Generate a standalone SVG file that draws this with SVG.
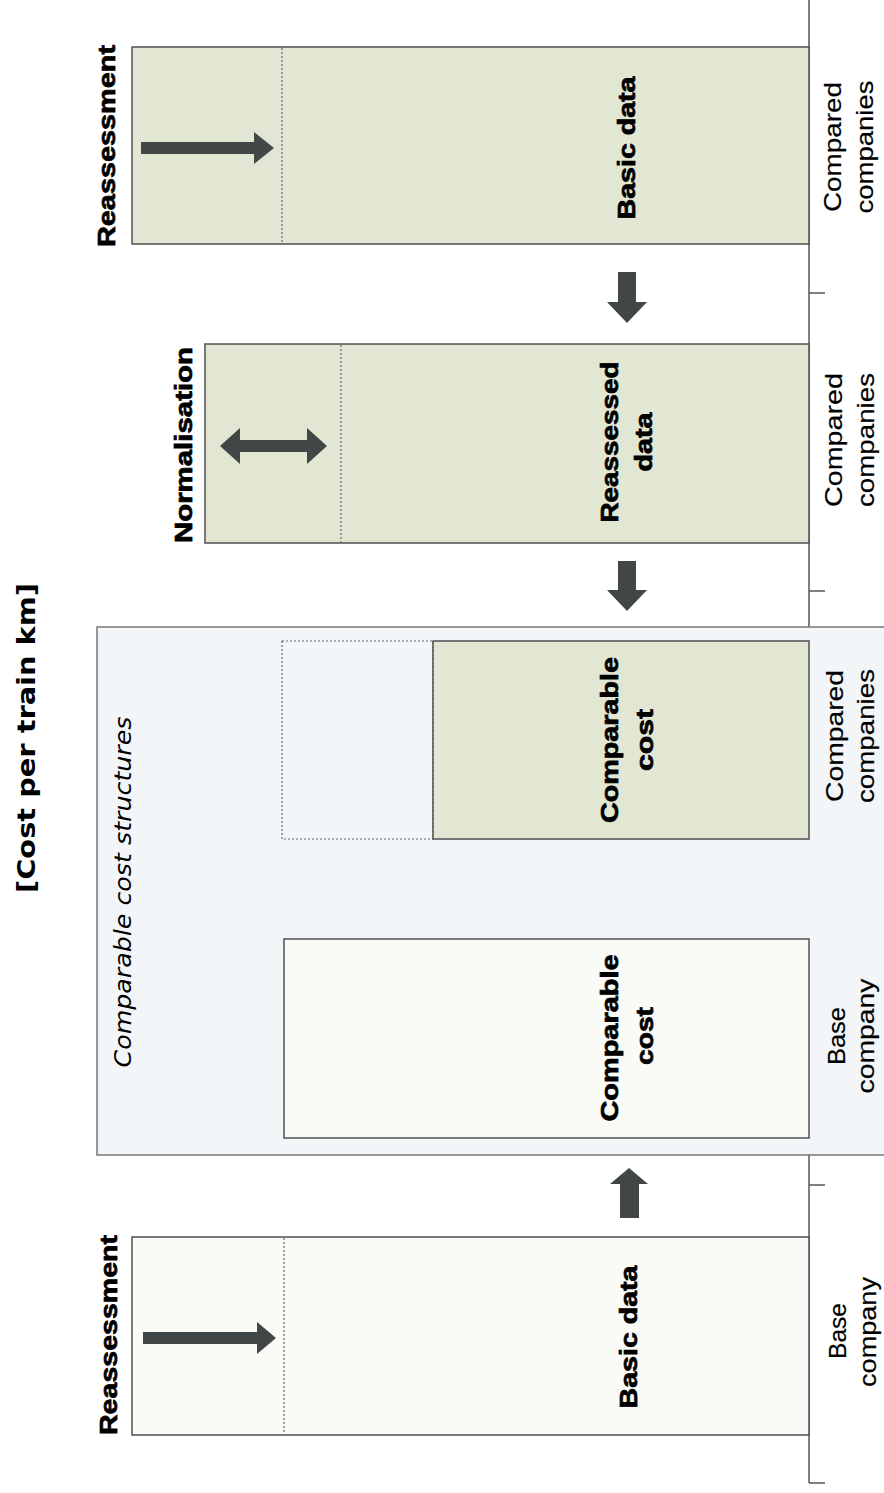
<svg xmlns="http://www.w3.org/2000/svg" width="884" height="1493" viewBox="0 0 884 1493">
<style>
.bar{stroke:#505050;stroke-width:1.5}
.green{fill:#e2e7d4}
.cream{fill:#fafaf6}
.div{stroke:#666;stroke-width:1.2;stroke-dasharray:2 2;fill:none}
.lbl{font-family:"Liberation Sans",Arial,sans-serif;font-weight:bold;font-size:24px;fill:#000;stroke:#000;stroke-width:0.7;text-anchor:middle}
.cat{font-family:"Liberation Sans",Arial,sans-serif;font-size:24px;fill:#000;stroke:#000;stroke-width:0.2;text-anchor:middle}
.arr{fill:#414747}
.axis{stroke:#555;stroke-width:1.5;fill:none}
</style>
<rect width="884" height="1493" fill="#fff"/>

<g id="axis">
<path class="axis" d="M809 0V1483M809 293H825M809 591H825M809 887H825M809 1185H825M809 1483H825"/>
</g>

<g id="title">
<text transform="translate(35,738) rotate(-90)" font-family="'DejaVu Sans',Verdana,sans-serif" font-weight="bold" font-size="25" text-anchor="middle" textLength="310" lengthAdjust="spacingAndGlyphs">[Cost per train km]</text>
</g>

<g id="group-comparable">
<rect x="97" y="627" width="800" height="528" fill="#f3f6f9" stroke="#777" stroke-width="1.5"/>
<text transform="translate(131,892) rotate(-90)" font-family="'DejaVu Sans',Verdana,sans-serif" font-style="italic" font-size="23" text-anchor="middle" textLength="351" lengthAdjust="spacingAndGlyphs">Comparable cost structures</text>
</g>

<g id="bar-basic-compared">
<rect class="bar green" x="132" y="47" width="677" height="197"/>
<line class="div" x1="282" y1="48" x2="282" y2="243"/>
<path class="arr" d="M141 142H254V132L274 148L254 164V154H141Z"/>
<text class="lbl" transform="translate(115,146) rotate(-90)" textLength="202" lengthAdjust="spacingAndGlyphs">Reassessment</text>
<text class="lbl" transform="translate(635,148) rotate(-90)" textLength="143" lengthAdjust="spacingAndGlyphs">Basic data</text>
<text class="cat" transform="translate(841,147) rotate(-90)" textLength="130" lengthAdjust="spacingAndGlyphs">Compared</text>
<text class="cat" transform="translate(873,147) rotate(-90)" textLength="133" lengthAdjust="spacingAndGlyphs">companies</text>
</g>

<g id="bar-reassessed">
<rect class="bar green" x="205" y="344" width="604" height="199"/>
<line class="div" x1="341" y1="345" x2="341" y2="542"/>
<path class="arr" d="M220 446L240 428V440H307V428L327 446L307 464V452H240V464Z"/>
<text class="lbl" transform="translate(192,445) rotate(-90)" textLength="196" lengthAdjust="spacingAndGlyphs">Normalisation</text>
<text class="lbl" transform="translate(618,442) rotate(-90)" textLength="161" lengthAdjust="spacingAndGlyphs">Reassessed</text>
<text class="lbl" transform="translate(652,442) rotate(-90)" textLength="59" lengthAdjust="spacingAndGlyphs">data</text>
<text class="cat" transform="translate(842,440) rotate(-90)" textLength="134" lengthAdjust="spacingAndGlyphs">Compared</text>
<text class="cat" transform="translate(874,440) rotate(-90)" textLength="134" lengthAdjust="spacingAndGlyphs">companies</text>
</g>

<g id="bar-comparable-compared">
<rect x="282" y="641" width="151" height="198" fill="#fff" class="div"/>
<rect class="bar green" x="433" y="641" width="376" height="198"/>
<text class="lbl" transform="translate(618,740) rotate(-90)" textLength="166" lengthAdjust="spacingAndGlyphs">Comparable</text>
<text class="lbl" transform="translate(653,740) rotate(-90)" textLength="62" lengthAdjust="spacingAndGlyphs">cost</text>
<text class="cat" transform="translate(843,736) rotate(-90)" textLength="132" lengthAdjust="spacingAndGlyphs">Compared</text>
<text class="cat" transform="translate(874,736) rotate(-90)" textLength="134" lengthAdjust="spacingAndGlyphs">companies</text>
</g>

<g id="bar-comparable-base">
<rect class="bar cream" x="284" y="939" width="525" height="199"/>
<text class="lbl" transform="translate(618,1038) rotate(-90)" textLength="167" lengthAdjust="spacingAndGlyphs">Comparable</text>
<text class="lbl" transform="translate(653,1036) rotate(-90)" textLength="58" lengthAdjust="spacingAndGlyphs">cost</text>
<text class="cat" transform="translate(845,1036) rotate(-90)" textLength="58" lengthAdjust="spacingAndGlyphs">Base</text>
<text class="cat" transform="translate(874,1036) rotate(-90)" textLength="115" lengthAdjust="spacingAndGlyphs">company</text>
</g>

<g id="bar-basic-base">
<rect class="bar cream" x="132" y="1237" width="677" height="198"/>
<line class="div" x1="284" y1="1238" x2="284" y2="1434"/>
<path class="arr" d="M143 1332H257V1322L276 1338L257 1354V1344H143Z"/>
<text class="lbl" transform="translate(117,1335) rotate(-90)" textLength="200" lengthAdjust="spacingAndGlyphs">Reassessment</text>
<text class="lbl" transform="translate(637,1337) rotate(-90)" textLength="143" lengthAdjust="spacingAndGlyphs">Basic data</text>
<text class="cat" transform="translate(846,1331) rotate(-90)" textLength="56" lengthAdjust="spacingAndGlyphs">Base</text>
<text class="cat" transform="translate(876,1332) rotate(-90)" textLength="110" lengthAdjust="spacingAndGlyphs">company</text>
</g>

<g id="connectors">
<path class="arr" d="M618 272H636V302H647L627 323L607 302H618Z"/>
<path class="arr" d="M618 561H636V590H647L627 611L607 590H618Z"/>
<path class="arr" d="M620 1218H639V1184H648L629 1168L610 1184H620Z"/>
</g>
</svg>
